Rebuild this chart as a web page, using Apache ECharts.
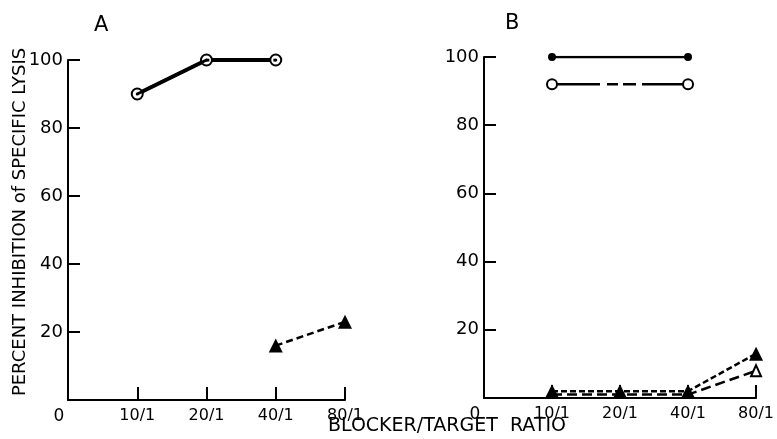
<!DOCTYPE html>
<html><head><meta charset="utf-8">
<script src="https://cdn.jsdelivr.net/npm/echarts@6/dist/echarts.min.js"></script>
<style>html,body{margin:0;padding:0;background:#fff}#c{width:777px;height:439px}</style>
</head><body><div id="c"></div>
<script>
// x positions: 0 = origin, 1 = 10/1, 2 = 20/1, 3 = 40/1, 4 = 80/1
const xTickLabels = ['0', '10/1', '20/1', '40/1', '80/1'];
const yTicks = [0, 20, 40, 60, 80, 100];
// Panel A
const aCircleX = [1, 2, 3];
const aCircleY = [90, 100, 100];
const aTriX = [3, 4];
const aTriY = [16, 23];
// Panel B
const bFilledCircleX = [1, 3];
const bFilledCircleY = [100, 100];
const bOpenCircleX = [1, 3];
const bOpenCircleY = [92, 92];
const bFilledTriX = [1, 2, 3, 4];
const bFilledTriY = [2, 2, 2, 13];
const bOpenTriX = [1, 2, 3, 4];
const bOpenTriY = [1, 1, 1, 8];

const pair = (xs, ys) => xs.map((x, i) => [x, ys[i]]);
const FONT = 'DejaVu Sans';
const K = '#000';

function xAxis(idx) {
  return {
    gridIndex: idx, type: 'value', min: 0, max: 4, interval: 1,
    axisLine: {show: true, onZero: false, lineStyle: {color: K, width: 2}},
    axisTick: {show: true, inside: true, length: 13, lineStyle: {color: K, width: 2}},
    splitLine: {show: false},
    axisLabel: {
      color: K, fontFamily: FONT, fontSize: 16, margin: 8,
      formatter: v => v === 0 ? '{z|' + xTickLabels[0] + '}' : xTickLabels[v],
      rich: {z: {fontFamily: FONT, fontSize: 17, color: K, padding: [0, 18, 0, 0]}}
    }
  };
}
function yAxis(idx) {
  return {
    gridIndex: idx, type: 'value', min: 0, max: 100, interval: 20,
    axisLine: {show: true, lineStyle: {color: K, width: 2}},
    axisTick: {show: true, inside: true, length: 12, lineStyle: {color: K, width: 2}},
    splitLine: {show: false},
    axisLabel: {color: K, fontFamily: FONT, fontSize: 18, margin: 5,
      formatter: v => v === 0 ? '' : String(v)}
  };
}

const chart = echarts.init(document.getElementById('c'));
chart.setOption({
  backgroundColor: '#fff',
  animation: false,
  title: [
    {text: 'A', left: 89, top: 10, textStyle: {fontFamily: FONT, fontSize: 21, fontWeight: 'normal', color: K}},
    {text: 'B', left: 500, top: 8, textStyle: {fontFamily: FONT, fontSize: 21, fontWeight: 'normal', color: K}}
  ],
  grid: [
    {left: 68, top: 60, width: 277, height: 340},
    {left: 484, top: 57, width: 276, height: 341}
  ],
  xAxis: [xAxis(0), xAxis(1)],
  yAxis: [yAxis(0), yAxis(1)],
  graphic: [
    {type: 'text', x: 447, y: 426,
      style: {text: 'BLOCKER/TARGET  RATIO', fontFamily: FONT, fontSize: 19, fill: K, align: 'center', verticalAlign: 'middle'}},
    {type: 'text', x: 20, y: 222, rotation: Math.PI / 2,
      style: {text: 'PERCENT INHIBITION of SPECIFIC LYSIS', fontFamily: FONT, fontSize: 18, fill: K, align: 'center', verticalAlign: 'middle'}}
  ],
  series: [
    // Panel A: two overlapping lines with bullseye markers
    {type: 'line', xAxisIndex: 0, yAxisIndex: 0, data: pair(aCircleX, aCircleY),
      lineStyle: {color: K, width: 4}, symbol: 'emptyCircle', symbolSize: 11,
      itemStyle: {color: K, borderColor: K, borderWidth: 2.5}, z: 2},
    {type: 'line', xAxisIndex: 0, yAxisIndex: 0, data: pair(aCircleX, aCircleY),
      lineStyle: {color: K, width: 3, type: [8, 4]}, symbol: 'circle', symbolSize: 3,
      itemStyle: {color: K}, z: 3},
    {type: 'line', xAxisIndex: 0, yAxisIndex: 0, data: pair(aTriX, aTriY),
      lineStyle: {color: K, width: 2.5, type: [7, 4]}, symbol: 'triangle', symbolSize: [14, 14],
      itemStyle: {color: K}},
    // Panel B
    {type: 'line', xAxisIndex: 1, yAxisIndex: 1, data: pair(bFilledCircleX, bFilledCircleY),
      lineStyle: {color: K, width: 2.5}, symbol: 'circle', symbolSize: 8, itemStyle: {color: K}},
    {type: 'line', xAxisIndex: 1, yAxisIndex: 1, data: pair(bOpenCircleX, bOpenCircleY),
      lineStyle: {color: K, width: 2.5, type: [48, 7, 11, 5, 13, 6, 60]}, symbol: 'emptyCircle', symbolSize: 10,
      itemStyle: {color: K, borderColor: K, borderWidth: 1.8}},
    {type: 'line', xAxisIndex: 1, yAxisIndex: 1, data: pair(bOpenTriX, bOpenTriY),
      lineStyle: {color: K, width: 2.5, type: [10, 5]},
      symbol: (v, p) => p.dataIndex === bOpenTriX.length - 1 ? 'emptyTriangle' : 'none', symbolSize: [10, 11],
      itemStyle: {color: K, borderColor: K, borderWidth: 1.8}, z: 2},
    {type: 'line', xAxisIndex: 1, yAxisIndex: 1, data: pair(bFilledTriX, bFilledTriY),
      lineStyle: {color: K, width: 2.5, type: [6, 3]}, symbol: 'triangle', symbolSize: [14, 14],
      itemStyle: {color: K}, z: 3}
  ]
});
</script></body></html>
